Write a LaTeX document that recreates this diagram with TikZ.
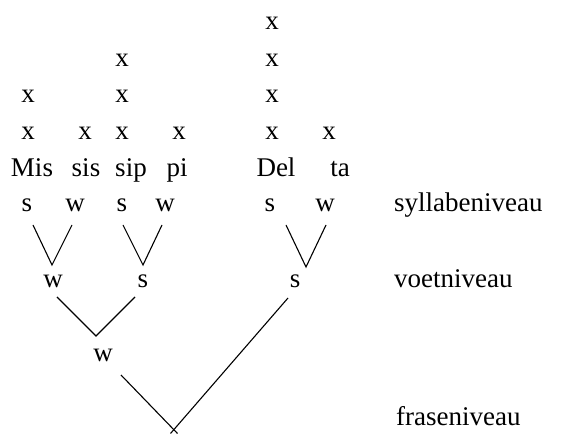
\documentclass[tikz,border=0pt]{standalone}
\usepackage{fontspec}
\setmainfont{Liberation Serif}
\begin{document}
\begin{tikzpicture}[x=1pt,y=-1pt,
  lbl/.style={inner sep=0pt,anchor=base,font=\fontsize{27}{32}\selectfont},
  lvl/.style={inner sep=0pt,anchor=base west,font=\fontsize{27}{32}\selectfont},
  edge/.style={line width=1.1pt,line cap=butt}]
\useasboundingbox (0,0) rectangle (573,435);
% grid marks
\node[lbl] (x41) at (28,139.5) {x};
\node[lbl] (x42) at (85,139.5) {x};
\node[lbl] (x43) at (122,139.5) {x};
\node[lbl] (x44) at (179,139.5) {x};
\node[lbl] (x45) at (272,139.5) {x};
\node[lbl] (x46) at (329,139.5) {x};
\node[lbl] (x31) at (28,103) {x};
\node[lbl] (x33) at (122,103) {x};
\node[lbl] (x35) at (272,103) {x};
\node[lbl] (x23) at (122,66.5) {x};
\node[lbl] (x25) at (272,66.5) {x};
\node[lbl] (x15) at (272,29.5) {x};
% syllables
\node[lbl] (mis) at (32,177) {Mis};
\node[lbl] (sis) at (86,177) {sis};
\node[lbl] (sip) at (131,177) {sip};
\node[lbl] (pi) at (177,177) {pi};
\node[lbl] (del) at (276,177) {Del};
\node[lbl] (ta) at (340,177) {ta};
% syllable level
\node[lbl] (s1) at (27,212) {s};
\node[lbl] (w1) at (75,212) {w};
\node[lbl] (s2) at (122,212) {s};
\node[lbl] (w2) at (165,212) {w};
\node[lbl] (s3) at (270,212) {s};
\node[lbl] (w3) at (325,212) {w};
\node[lvl] (syl) at (394,212) {syllabeniveau};
% foot level
\node[lbl] (fw) at (53,288) {w};
\node[lbl] (fs1) at (143,288) {s};
\node[lbl] (fs2) at (295,288) {s};
\node[lvl] (voet) at (394,288) {voetniveau};
% phrase
\node[lbl] (pw) at (103,362) {w};
\node[lvl] (frase) at (396,425) {fraseniveau};
% connector points
\coordinate (a1) at (33,225); \coordinate (v1) at (52,265); \coordinate (b1) at (72,225);
\coordinate (a2) at (123,225); \coordinate (v2) at (143,265); \coordinate (b2) at (162,225);
\coordinate (a3) at (286,225); \coordinate (v3) at (306,267); \coordinate (b3) at (326,225);
\coordinate (a4) at (57,297); \coordinate (v4) at (96,336); \coordinate (b4) at (135,297);
\coordinate (a5) at (121,375); \coordinate (b5) at (288,298);
\coordinate (e5l) at (177.5,433.5); \coordinate (e5r) at (170.5,433.5);
\draw[edge] (a1) -- (v1) -- (b1);
\draw[edge] (a2) -- (v2) -- (b2);
\draw[edge] (a3) -- (v3) -- (b3);
\draw[edge] (a4) -- (v4) -- (b4);
\draw[edge] (a5) -- (e5l);
\draw[edge] (b5) -- (e5r);
\end{tikzpicture}
\end{document}
